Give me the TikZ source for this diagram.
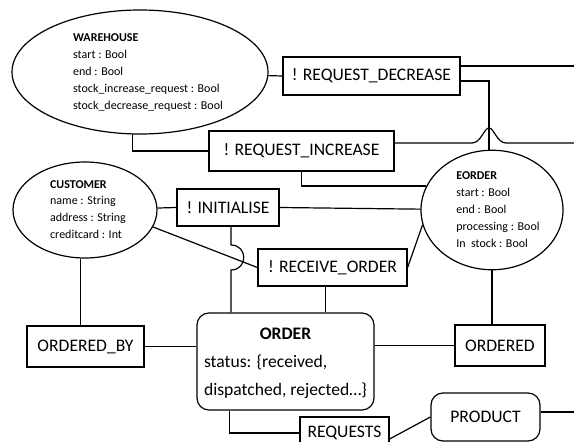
\documentclass[tikz,border=0pt]{standalone}
\usepackage{fontspec}
\setmainfont{Carlito}
\usetikzlibrary{shapes.geometric}

\begin{document}
\begin{tikzpicture}[x=1pt,y=-1pt,line width=1.2pt,
  entity node/.style={draw,ellipse,inner sep=0pt,
    font=\fontsize{12}{16.9}\selectfont},
  action node/.style={draw,rectangle,inner sep=0pt,
    font=\fontsize{17.6}{21}\selectfont},
  table node/.style={draw,rectangle,rounded corners=12pt,inner sep=0pt,
    font=\fontsize{17.6}{28}\selectfont}]

  \clip (0,0) rectangle (574,442);

  % entities
  \node[entity node,minimum width=256pt,minimum height=124pt] (warehouse) at (140,72)
    {\begin{tabular}{@{\hspace{16pt}}l@{}}\textbf{WAREHOUSE}\\start : Bool\\end : Bool\\
      stock\_increase\_request : Bool\\stock\_decrease\_request : Bool\end{tabular}};
  \node[entity node,minimum width=144pt,minimum height=96pt] (customer) at (85,210)
    {\begin{tabular}{@{\hspace{6pt}}l@{}}\textbf{CUSTOMER}\\name : String\\address : String\\
      creditcard : Int\end{tabular}};
  \node[entity node,minimum width=142pt,minimum height=114pt] (eorder) at (492,210)
    {\begin{tabular}{@{\hspace{12pt}}l@{}}\textbf{EORDER}\\start : Bool\\end : Bool\\
      processing : Bool\\In\ \ stock : Bool\end{tabular}};

  % actions and relations
  \node[action node,minimum width=177pt,minimum height=38pt] (decrease) at (371.5,76)
    {! REQUEST\_DECREASE};
  \node[action node,minimum width=185pt,minimum height=40pt] (increase) at (301.5,151)
    {! REQUEST\_INCREASE};
  \node[action node,minimum width=102pt,minimum height=37pt] (initialise) at (228,207.5)
    {! INITIALISE};
  \node[action node,minimum width=149pt,minimum height=37pt] (receive) at (332.5,267.5)
    {! RECEIVE\_ORDER};
  \node[action node,minimum width=117pt,minimum height=41pt] (orderedby) at (85.5,346.5)
    {ORDERED\_BY};
  \node[action node,minimum width=90pt,minimum height=41pt] (ordered) at (500,345.5)
    {ORDERED};
  \node[action node,minimum width=89pt,minimum height=32pt] (requests) at (344.5,433)
    {REQUESTS};

  % tables
  \node[table node,minimum width=177pt,minimum height=97pt] (order) at (285.5,361.5)
    {\begin{tabular}{@{}l@{}}\multicolumn{1}{@{}c@{}}{\textbf{ORDER}}\\
      status: \{received,\\ dispatched, rejected…\}\end{tabular}};
  \node[table node,minimum width=109pt,minimum height=48pt] (product) at (485.5,417)
    {PRODUCT};

  \coordinate (dec out) at (580,66);
  \coordinate (inc out) at (580,143);
  \coordinate (prod out) at (580,412);
  \coordinate (cross) at (231,257.5);
  \coordinate (rcv foot) at ([xshift=-7pt]receive.south);

  \draw (decrease.west) -- (warehouse);
  \draw ([yshift=10pt]decrease.east) -- (dec out);
  \draw ([yshift=-5pt]decrease.east) -| ([xshift=-3pt]eorder.north);
  \draw ([yshift=8pt]increase.east) -- (472,143)
    .. controls (481,143) and (484,128) .. (489,128)
    .. controls (494,128) and (497,143) .. (506,143) -- (inc out);
  \draw (warehouse.263) |- (increase.west);
  \draw (increase.south) |- (eorder.160);
  \draw (initialise.west) -- (customer);
  \draw (initialise.east) -- (eorder);
  \draw (customer.-14) -- (receive.west);
  \draw (receive.east) -- (eorder.192);
  \draw ([xshift=3pt]initialise.south) -- ([yshift=12.5pt]cross)
    .. controls ([xshift=17pt,yshift=12.5pt]cross) and ([xshift=17pt,yshift=-12.5pt]cross)
    .. ([yshift=-12.5pt]cross) -- (cross |- order.north);
  \draw (rcv foot) -- (rcv foot |- order.north);
  \draw (customer.265) -- (customer.265 |- orderedby.north);
  \draw (orderedby.east) -- (orderedby.east -| order.west);
  \draw (ordered.west) -- (ordered.west -| order.east);
  \draw (eorder.south) -- (eorder.south |- ordered.north);
  \draw ([xshift=33pt]order.south west) |- (requests.west);
  \draw ([yshift=-6pt]requests.east) -- (product.west);
  \draw ([yshift=5pt]product.east) -- (prod out);

\end{tikzpicture}
\end{document}
